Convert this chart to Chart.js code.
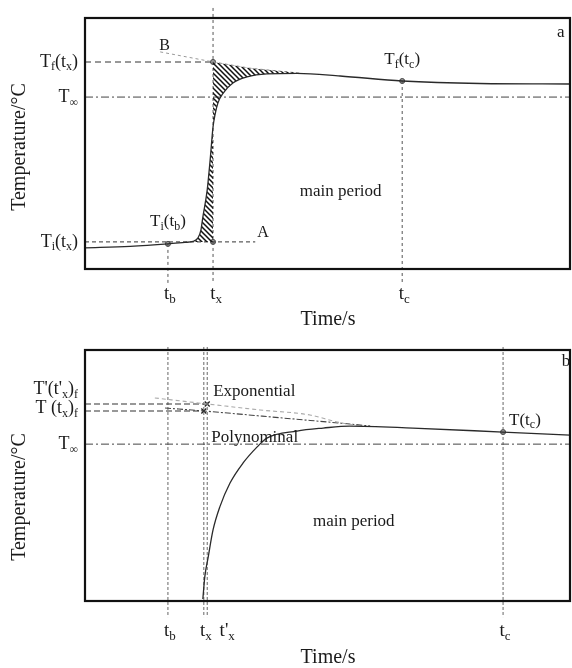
<!DOCTYPE html>
<html>
<head>
<meta charset="utf-8">
<script src="https://cdn.jsdelivr.net/npm/chart.js@4/dist/chart.umd.min.js"></script>
<style>
  html, body { margin: 0; background: #fff; overflow: hidden; }
  canvas { display: block; }
</style>
</head>
<body>
<canvas id="chartA" width="572" height="334"></canvas>
<canvas id="chartB" width="572" height="334"></canvas>
<script>
// ---- panel a data (time in s, temperature in arbitrary units) ----
var timeA = [0, 9.3, 17.1, 20.6, 22.3, 23.3, 23.9, 24.3, 25.2, 25.8, 26.4, 26.8, 27.4, 28.5, 30.5, 33.4, 37.5, 43.7, 52.6, 65.4, 81.4, 100];
var tempA = [8.4, 9.0, 10.0, 10.6, 11.0, 12.4, 15.5, 20.7, 31.5, 43.4, 56.6, 61.4, 66.1, 70.1, 74.1, 76.5, 77.7, 77.9, 76.9, 74.9, 73.9, 73.7];
var bTimeLeft = [15.5, 26.4];
var bTempLeft = [86.5, 82.5];
var bTimeRight = [26.4, 34.0, 44.5];
var bTempRight = [82.5, 80.0, 78.0];
var xTicksA = [17.1, 26.4, 65.4];
var xLabelsA = ['t_{b}', 't_{x}', 't_{c}'];
var yTicksA = [82.5, 68.5, 10.8];
var yLabelsA = ['T_{f}(t_{x})', 'T_{∞}', 'T_{i}(t_{x})'];
var tiTb = 10.0, tfTc = 74.9, aEnd = 35.1;

// ---- panel b data ----
var timeB = [24.3, 24.7, 25.4, 26.4, 27.8, 29.9, 32.6, 35.5, 37.5, 43.7, 49.1, 54.6, 67.6, 86.2, 100];
var tempB = [0.8, 9.6, 17.5, 28.3, 37.5, 47.0, 55.0, 61.4, 64.9, 67.7, 68.9, 69.7, 68.9, 67.3, 66.1];
var expTime = [14.4, 25.2, 36.1, 46.4, 52.0, 56.7];
var expTemp = [80.9, 78.5, 76.1, 74.1, 71.3, 69.7];
var polyTime = [16.5, 24.5, 40.8, 54.6, 58.8];
var polyTemp = [76.9, 75.7, 72.9, 70.5, 69.7];
var xTicksB = [17.1, 24.5, 25.2, 86.2];
var xLabelsB = ['t_{b}', 't_{x}', "t'_{x}", 't_{c}'];
var yTicksB = [78.5, 75.7, 62.5];
var yLabelsB = ["T'(t'_{x})_{f}", 'T (t_{x})_{f}', 'T_{∞}'];
var tTc = 67.3;

var SERIF = '"Liberation Serif", "DejaVu Serif", serif';

function pts(xs, ys) {
  return xs.map(function (x, i) { return { x: x, y: ys[i] }; });
}

function hline(x0, x1, y) { return [{ x: x0, y: y }, { x: x1, y: y }]; }
function vline(x, y0, y1) { return [{ x: x, y: y0 }, { x: x, y: y1 }]; }

function makeHatch(ctx) {
  var c = document.createElement('canvas');
  c.width = 5; c.height = 5;
  var g = c.getContext('2d');
  g.strokeStyle = '#111';
  g.lineWidth = 1.5;
  g.beginPath();
  g.moveTo(-1, -1); g.lineTo(6, 6);
  g.moveTo(-1, 4); g.lineTo(1, 6);
  g.moveTo(4, -1); g.lineTo(6, 1);
  g.stroke();
  return ctx.createPattern(c, 'repeat');
}

// draws text with _{sub} parts
function drawRich(ctx, str, x, y, align, size) {
  var parts = [];
  var re = /_\{([^}]*)\}/g, last = 0, m;
  while ((m = re.exec(str)) !== null) {
    if (m.index > last) parts.push([str.slice(last, m.index), false]);
    parts.push([m[1], true]);
    last = re.lastIndex;
  }
  if (last < str.length) parts.push([str.slice(last), false]);
  var subSize = Math.round(size * 0.68);
  var total = 0;
  parts.forEach(function (p) {
    ctx.font = (p[1] ? subSize : size) + 'px ' + SERIF;
    p.push(ctx.measureText(p[0]).width);
    total += p[2];
  });
  var cx = align === 'right' ? x - total : align === 'center' ? x - total / 2 : x;
  ctx.textAlign = 'left';
  ctx.textBaseline = 'middle';
  parts.forEach(function (p) {
    ctx.font = (p[1] ? subSize : size) + 'px ' + SERIF;
    ctx.fillText(p[0], cx, p[1] ? y + size * 0.3 : y);
    cx += p[2];
  });
}

function line(data, color, width, dash, extra) {
  var d = {
    data: data, borderColor: color, borderWidth: width, borderDash: dash || [],
    pointRadius: 0, fill: false, tension: 0
  };
  for (var k in extra) d[k] = extra[k];
  return d;
}

function decorPlugin(cfg) {
  return {
    id: 'decor',
    afterDraw: function (chart) {
      var ctx = chart.ctx, a = chart.chartArea;
      var sx = chart.scales.x, sy = chart.scales.y;
      ctx.save();
      ctx.strokeStyle = '#111';
      ctx.lineWidth = 2.2;
      ctx.strokeRect(a.left, a.top, a.right - a.left, a.bottom - a.top);
      ctx.fillStyle = '#1a1a1a';
      cfg.xTicks.forEach(function (v, i) {
        drawRich(ctx, cfg.xLabels[i], sx.getPixelForValue(v) + (cfg.xShift[i] || 0), a.bottom + cfg.xLabelGap, 'center', 19);
      });
      cfg.yTicks.forEach(function (v, i) {
        drawRich(ctx, cfg.yLabels[i], a.left - 7, sy.getPixelForValue(v) + (cfg.yShift[i] || 0), 'right', 18);
      });
      drawRich(ctx, 'Time/s', 328, a.bottom + cfg.titleGap, 'center', 20);
      ctx.save();
      ctx.translate(20, cfg.yTitleY);
      ctx.rotate(-Math.PI / 2);
      drawRich(ctx, 'Temperature/°C', 0, 0, 'center', 20);
      ctx.restore();
      cfg.notes.forEach(function (n) {
        var px = sx.getPixelForValue(n.x) + (n.dx || 0);
        var py = sy.getPixelForValue(n.y) + (n.dy || 0);
        drawRich(ctx, n.text, px, py, n.align || 'left', n.size || 17);
      });
      ctx.restore();
    }
  };
}

function baseOptions(pad) {
  return {
    responsive: false,
    animation: false,
    layout: { padding: pad, autoPadding: false },
    plugins: { legend: { display: false }, tooltip: { enabled: false } },
    scales: {
      x: { type: 'linear', min: 0, max: 100, display: false },
      y: { type: 'linear', min: 0, max: 100, display: false }
    }
  };
}

function buildA() {
  var ctx = document.getElementById('chartA').getContext('2d');
  var pattern = makeHatch(ctx);
  var curve = pts(timeA, tempA);
  var tx = xTicksA[1], tb = xTicksA[0], tc = xTicksA[2];
  var tf = yTicksA[0], tinf = yTicksA[1], ti = yTicksA[2];
  var vstyle = { clip: false };
  new Chart(ctx, {
    type: 'line',
    data: {
      datasets: [
        line(curve, '#2a2a2a', 1.3, [], { cubicInterpolationMode: 'monotone' }),
        line(curve.filter(function (p) { return p.x >= 22.3 && p.x <= tx; }), 'rgba(0,0,0,0)', 0, [],
          { fill: { value: ti }, backgroundColor: pattern, cubicInterpolationMode: 'monotone' }),
        line(curve.filter(function (p) { return p.x >= tx && p.x <= 43.7; }), 'rgba(0,0,0,0)', 0, [],
          { fill: 3, backgroundColor: pattern, cubicInterpolationMode: 'monotone' }),
        line(pts(bTimeRight, bTempRight), '#888', 1, [3, 3]),
        line(pts(bTimeLeft, bTempLeft), '#999', 1, [3, 3]),
        line(hline(0, tx, tf), '#333', 1.1, [6, 4]),
        line(hline(0, aEnd, ti), '#333', 1, [4, 3]),
        line(hline(0, 100, tinf), '#444', 1, [8, 3, 2, 3]),
        line(vline(tb, tiTb, -5.6), '#555', 1, [3, 3], vstyle),
        line(vline(tx, 104, -5.6), '#555', 1, [3, 3], vstyle),
        line(vline(tc, tfTc, -5.6), '#555', 1, [3, 3], vstyle),
        {
          data: [{ x: tb, y: tiTb }, { x: tx, y: ti }, { x: tx, y: tf }, { x: tc, y: tfTc }],
          showLine: false, pointRadius: 2.5, pointBackgroundColor: '#999', pointBorderColor: '#444', pointBorderWidth: 1
        }
      ]
    },
    options: baseOptions({ left: 85, top: 18, right: 2, bottom: 65 }),
    plugins: [decorPlugin({
      xTicks: xTicksA, xLabels: xLabelsA, xShift: [2, 3, 2], xLabelGap: 25,
      yTicks: yTicksA, yLabels: yLabelsA, yShift: [0, 0, 0],
      titleGap: 51, yTitleY: 147,
      notes: [
        { text: 'T_{i}(t_{b})', x: tb, y: tiTb, dy: -22, align: 'center', size: 17 },
        { text: 'T_{f}(t_{c})', x: tc, y: tfTc, dy: -21, align: 'center', size: 17 },
        { text: 'main period', x: 44.3, y: 30.7, size: 17 },
        { text: 'A', x: 35.1, y: ti, dx: 2, dy: -9, size: 16 },
        { text: 'B', x: 15.5, y: 86.5, dx: -1, dy: -6, size: 16 },
        { text: 'a', x: 97.3, y: 94.4, size: 17 }
      ]
    })]
  });
}

function buildB() {
  var ctx = document.getElementById('chartB').getContext('2d');
  var tb = xTicksB[0], tx = xTicksB[1], tx2 = xTicksB[2], tc = xTicksB[3];
  var tf2 = yTicksB[0], tf = yTicksB[1], tinf = yTicksB[2];
  var vstyle = { clip: false };
  new Chart(ctx, {
    type: 'line',
    data: {
      datasets: [
        line(pts(timeB, tempB), '#2a2a2a', 1.3, [], { cubicInterpolationMode: 'monotone' }),
        line(pts(expTime, expTemp), '#aaa', 1.1, [4, 3], { cubicInterpolationMode: 'monotone' }),
        line(pts(polyTime, polyTemp), '#444', 1.1, [6, 2, 2, 2], { cubicInterpolationMode: 'monotone' }),
        line(hline(0, tx2, tf2), '#333', 1.1, [6, 3]),
        line(hline(0, tx, tf), '#333', 1.1, [6, 3]),
        line(hline(0, 100, tinf), '#444', 1, [8, 3, 2, 3]),
        line(vline(tb, 101.2, -6.4), '#666', 1, [3, 2], vstyle),
        line(vline(tx, 101.2, -6.4), '#666', 1, [3, 2], vstyle),
        line(vline(tx2, 101.2, -6.4), '#666', 1, [3, 2], vstyle),
        line(vline(tc, 101.2, -6.4), '#666', 1, [3, 2], vstyle),
        {
          data: [{ x: tx, y: tf }, { x: tx2, y: tf2 }],
          showLine: false, pointStyle: 'crossRot', pointRadius: 3.5, pointBorderColor: '#222', pointBorderWidth: 1.3
        },
        {
          data: [{ x: tc, y: tTc }],
          showLine: false, pointRadius: 2.5, pointBackgroundColor: '#999', pointBorderColor: '#444', pointBorderWidth: 1
        }
      ]
    },
    options: baseOptions({ left: 85, top: 16, right: 2, bottom: 67 }),
    plugins: [decorPlugin({
      xTicks: xTicksB, xLabels: xLabelsB, xShift: [2, 2, 20, 2], xLabelGap: 30,
      yTicks: yTicksB, yLabels: yLabelsB, yShift: [-15, -3, 0],
      titleGap: 57, yTitleY: 163,
      notes: [
        { text: 'Exponential', x: tx2, y: tf2, dx: 6, dy: -12, size: 17 },
        { text: 'Polynominal', x: tx2, y: tinf, dx: 4, dy: -7, size: 17 },
        { text: 'T(t_{c})', x: tc, y: tTc, dx: 6, dy: -12, size: 17 },
        { text: 'main period', x: 47.0, y: 31.5, size: 17 },
        { text: 'b', x: 98.3, y: 95.6, size: 17 }
      ]
    })]
  });
}

buildA();
buildB();
</script>
</body>
</html>
